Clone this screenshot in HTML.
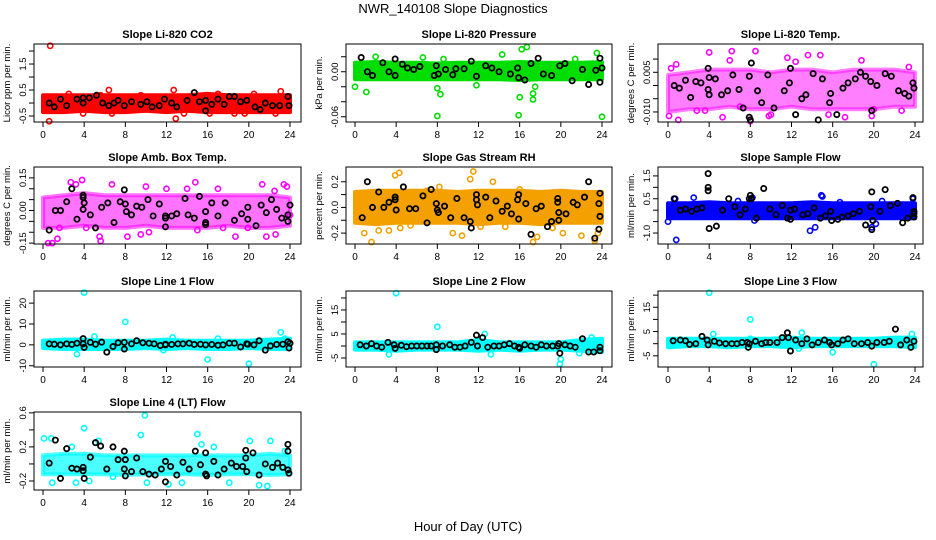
<!DOCTYPE html>
<html><head><meta charset="utf-8"><style>
html,body{margin:0;padding:0;background:#fff;}
svg{display:block;font-family:"Liberation Sans",sans-serif;}
</style></head><body>
<svg id="chart" width="936" height="540" viewBox="0 0 936 540" xmlns="http://www.w3.org/2000/svg">
<rect x="0" y="0" width="936" height="540" fill="#fff"/>
<text x="453" y="13" text-anchor="middle" font-size="13">NWR_140108  Slope Diagnostics</text>
<text x="468" y="531" text-anchor="middle" font-size="13">Hour of Day (UTC)</text>
</svg>
<script>
const bandHours=[0,2,4,6,8,10,12,14,16,18,20,22,24];
const xTicks=[0,4,8,12,16,20,24];

const co2Lo=[-0.35,-0.35,-0.3,-0.35,-0.35,-0.3,-0.35,-0.3,-0.35,-0.35,-0.35,-0.35,-0.35];
const co2Hi=[0.3,0.3,0.3,0.3,0.3,0.3,0.3,0.3,0.35,0.3,0.3,0.3,0.3];
const co2Pts=[[0.7,2.2],[0.6,-0.7],[3.9,-0.4],[6.4,0.5],[6.7,-0.4],[12.7,0.5],[12.9,-0.6],[13.7,-0.4],[16.2,-0.4],[18.6,-0.4],[19.6,-0.4],[22.6,-0.4],[23.1,0.45],[5.6,0.3],[9.5,0.3],[17,0.35],[20.5,0.35],[2.5,0.35]];
const co2Blk=[[0.6,0],[1.1,-0.15],[1.7,0.15],[2.3,-0.1],[3.3,0.15],[3.9,0.2],[3.9,0],[4.5,0.2],[5.2,0.3],[5.8,0],[6.4,-0.1],[6.9,0],[7.3,0.1],[7.9,-0.1],[8.6,0.05],[9.5,-0.05],[10.1,0.05],[10.6,-0.15],[11.3,-0.1],[11.8,0.15],[12.5,0],[13,-0.15],[14,0.1],[14.7,0.4],[15.2,0.05],[15.8,0.1],[15.8,-0.3],[16.4,-0.05],[17,0.15],[17.6,-0.05],[18.1,0.25],[18.6,0.25],[19.2,0.05],[19.8,0.1],[20.6,-0.15],[21.1,-0.25],[21.6,0],[22.3,-0.1],[23,-0.1],[23.8,0.25],[23.9,-0.1]];
const co2Ticks=[-0.5,0,0.5,1,1.5,2];
const co2Labels=["-0.5","","0.5","","1.5",""];

const presLo=[-0.01,-0.01,-0.01,-0.01,-0.01,-0.01,-0.01,-0.01,-0.011,-0.01,-0.01,-0.01,-0.01];
const presHi=[0.012,0.013,0.012,0.012,0.011,0.012,0.012,0.012,0.013,0.012,0.012,0.012,0.013];
const presPts=[[0,-0.02],[1.1,-0.027],[2,0.02],[6.6,0.019],[8,-0.059],[8,-0.022],[8.3,-0.03],[8.6,0.017],[15.9,-0.058],[16,-0.034],[16.2,0.03],[16.7,0.033],[17.3,-0.037],[17.3,-0.029],[17.5,-0.02],[14.3,0.023],[23.5,0.025],[24,-0.06],[11.8,-0.018],[21.4,0.017]];
const presBlk=[[0.6,0.019],[1.2,0],[1.7,-0.005],[2.7,0.012],[3.3,0],[3.9,0.017],[3.9,-0.005],[4.6,0.01],[5.1,0.005],[5.7,0.003],[6.3,0.007],[7.7,-0.005],[7.9,0.008],[8.1,-0.003],[8.8,0.003],[9.5,-0.004],[9.8,0.004],[10.6,0.004],[11.3,0.014],[11.8,-0.006],[12.7,0.008],[13.3,0.005],[14,0],[15.1,-0.003],[15.8,0.005],[15.9,-0.008],[16.5,-0.011],[17.1,0.011],[17.8,0.018],[18.3,-0.003],[19.1,-0.005],[19.9,0.008],[20.4,0.011],[21.1,-0.012],[22.1,0.003],[22.7,-0.017],[23.4,0.002],[23.8,0.018],[23.8,-0.014],[24,0.005]];
const presTicks=[-0.06,-0.04,-0.02,0,0.02];
const presLabels=["-0.06","","","0.00",""];

const tempLo=[-0.01,-0.009,-0.009,-0.008,-0.009,-0.009,-0.008,-0.009,-0.009,-0.009,-0.009,-0.008,-0.008];
const tempHi=[0.004,0.005,0.006,0.006,0.006,0.005,0.006,0.006,0.005,0.006,0.006,0.006,0.005];
const tempPts=[[0.1,-0.0115],[0.3,0.0065],[0.8,0.008],[1,-0.013],[4,0.0125],[6,0.0095],[6.2,0.013],[8.5,0.013],[8,-0.0135],[10,-0.011],[11.6,0.0105],[12.4,0.009],[13.6,0.0115],[14.8,0.0115],[15.6,-0.011],[17.2,-0.012],[18.8,0.0095],[19.8,-0.0115],[20,-0.009],[22.7,-0.0095],[23.4,0.007],[7,-0.008],[2.8,-0.0095],[3.6,-0.0095],[5.3,-0.012],[9.8,-0.0115]];
const tempBlk=[[0.6,0],[1.1,-0.001],[1.7,0.002],[2.2,-0.0045],[2.7,0.0015],[3.2,0.001],[3.9,0.0065],[3.9,-0.0015],[4,-0.0035],[4,0.003],[4.6,0.0025],[5.2,-0.0035],[5.8,-0.002],[6.3,0.004],[6.9,-0.0015],[7.3,-0.0085],[7.9,0.0035],[7.9,-0.012],[8,-0.013],[8.1,0.0085],[8.7,-0.002],[9.1,-0.0065],[9.7,0.004],[10.3,-0.0085],[11.3,-0.002],[11.8,0.001],[11.9,0.0065],[12.4,-0.011],[13,-0.005],[13.4,-0.0035],[14.1,0.0045],[14.6,-0.013],[15,0.0025],[15.7,-0.0065],[15.8,-0.003],[16.4,-0.011],[17,-0.001],[17.5,0.001],[18.2,0.0025],[18.7,0.005],[19.2,0.0035],[19.7,0.0015],[19.8,-0.0095],[20.3,0],[21.1,0.0045],[21.7,0.0035],[22.4,-0.002],[23,-0.003],[23.4,-0.004],[23.8,0.001],[23.9,-0.001]];
const tempTicks=[-0.01,-0.005,0,0.005,0.01];
const tempLabels=["-0.010","","","0.005",""];

const ambLo=[-0.08,-0.08,-0.07,-0.08,-0.08,-0.07,-0.08,-0.08,-0.08,-0.07,-0.08,-0.08,-0.07];
const ambHi=[0.06,0.07,0.08,0.07,0.07,0.07,0.07,0.07,0.07,0.07,0.07,0.07,0.06];
const ambPts=[[0.5,-0.15],[0.9,-0.15],[1.4,-0.13],[1.6,-0.08],[2.7,0.13],[3.2,0.12],[3.8,0.14],[4.2,-0.08],[5.5,-0.12],[5.6,-0.14],[6.7,0.12],[8.2,-0.12],[9.5,-0.11],[10,0.11],[10.3,-0.1],[12,0.1],[14,0.1],[14.8,0.13],[15,-0.09],[17,0.1],[17.5,-0.08],[18.7,-0.12],[19.9,-0.08],[21.3,0.12],[21.7,-0.12],[22.5,0.09],[22.6,-0.11],[23.4,0.12],[23.7,0.11],[24,-0.02]];
const ambBlk=[[0.6,-0.09],[1.2,0],[1.7,0],[2.3,0.04],[2.8,0.1],[3.3,-0.04],[3.9,0.07],[3.9,0.06],[4,0.035],[3.9,0.005],[4.6,-0.02],[5.1,-0.08],[5.7,0.015],[6.3,0.035],[6.9,-0.055],[7.5,0.04],[7.9,0.095],[8,0.03],[8.1,-0.005],[8.6,-0.02],[9.1,0.02],[9.6,0.015],[10.2,0.05],[10.7,-0.025],[11.3,0.03],[11.9,-0.025],[11.9,-0.035],[11.9,-0.075],[12.5,-0.025],[13,-0.015],[13.8,0.055],[14.1,-0.02],[14.7,-0.035],[15.2,0.065],[15.8,-0.005],[15.8,-0.055],[15.8,-0.065],[16.4,0.035],[17,-0.025],[17.7,0.035],[18.6,-0.045],[19.3,-0.015],[19.9,0.015],[19.9,-0.04],[20.7,-0.07],[21.2,0.025],[21.7,-0.01],[22.2,0.05],[22.7,0.005],[23.2,-0.035],[23.8,-0.02],[23.8,-0.05],[24,0.025]];
const ambTicks=[-0.15,-0.1,-0.05,0,0.05,0.1,0.15];
const ambLabels=["-0.15","","","0.00","","","0.15"];

const rhLo=[-0.12,-0.13,-0.12,-0.12,-0.12,-0.12,-0.13,-0.12,-0.12,-0.13,-0.12,-0.12,-0.12];
const rhHi=[0.12,0.13,0.13,0.13,0.13,0.12,0.13,0.13,0.13,0.12,0.13,0.12,0.12];
const rhPts=[[0.9,-0.2],[1.6,-0.27],[2.3,-0.18],[3.3,-0.18],[3.9,0.25],[4.3,0.27],[4.4,-0.16],[5.4,-0.14],[7,0.13],[8.2,0.16],[9.5,-0.2],[10.4,-0.22],[11.2,0.22],[11.5,0.28],[12.2,-0.15],[13.4,0.2],[14.6,-0.15],[16,0.14],[17.3,-0.27],[17.7,-0.23],[20.2,-0.2],[22,-0.22],[23.3,-0.26],[23.6,-0.2],[19.2,-0.16]];
const rhBlk=[[0.7,-0.08],[1.2,0.2],[1.7,0],[2.3,0.12],[2.8,0],[3.3,0.04],[3.9,0.08],[3.9,0.06],[4,-0.02],[4.7,0.16],[5.3,-0.01],[5.9,-0.01],[6.6,0.09],[7,-0.12],[7.4,0.14],[7.9,0.03],[8,-0.02],[8.1,-0.04],[8.7,0.01],[9.3,-0.08],[9.9,0.07],[10.6,-0.08],[11.2,-0.11],[11.3,-0.16],[11.8,0.1],[11.8,0.06],[11.9,0.02],[12.7,0.08],[13.1,-0.08],[13.7,0.05],[14.3,-0.03],[14.8,0.01],[15.2,-0.05],[15.8,0.06],[15.9,0.1],[15.9,-0.09],[16.6,0.03],[17.1,-0.21],[17.6,-0.01],[18.1,0.01],[18.7,-0.15],[19.1,-0.11],[19.7,0.07],[19.7,0.04],[19.8,-0.04],[19.8,-0.1],[20.5,-0.05],[21.2,0.04],[21.6,0.02],[22.3,0.08],[22.7,0.2],[23.3,-0.24],[23.7,0.03],[23.8,0.11],[23.8,-0.07],[23.7,-0.17]];
const rhTicks=[-0.2,-0.1,0,0.1,0.2];
const rhLabels=["-0.2","","0.0","","0.2"];

const sfLo=[-0.35,-0.35,-0.35,-0.35,-0.35,-0.35,-0.35,-0.35,-0.35,-0.35,-0.35,-0.35,-0.35];
const sfHi=[0.3,0.3,0.35,0.3,0.3,0.3,0.3,0.35,0.3,0.3,0.3,0.3,0.3];
const sfPts=[[0,-0.5],[0.7,0.5],[0.8,-1.3],[2.5,0.55],[6.8,0.4],[8.2,0.55],[8.4,-0.45],[13.8,-0.9],[14.3,-0.75],[14.9,0.65],[15,0.6],[16.7,0.35],[19.8,-0.75],[20.2,-0.6],[20.8,0.4],[23.8,0.5]];
const sfBlk=[[0.6,0.5],[1.2,0],[1.7,0.05],[2.3,-0.05],[2.8,0.05],[3.3,0.1],[3.9,1.6],[3.9,0.85],[3.9,1],[4,-0.8],[4.7,-0.7],[5.3,0],[5.9,0.5],[6.5,0.15],[7,-0.2],[7.5,0.05],[7.9,0.5],[8,0.65],[8.1,0.5],[8.6,-0.35],[9.3,0.95],[9.9,0.05],[10.5,-0.2],[11.1,0.2],[11.6,-0.35],[11.9,0],[11.9,-0.4],[12.3,0.05],[13.1,-0.2],[13.6,-0.15],[14.2,0.1],[14.8,-0.35],[15.3,-0.25],[15.8,-0.05],[15.9,-0.45],[16.5,-0.4],[16.9,-0.3],[17.5,-0.25],[18,-0.15],[18.6,-0.05],[19.2,-0.65],[19.7,0.15],[19.8,0.8],[19.8,-0.85],[19.9,-0.45],[20.6,-0.05],[21.1,0.9],[21.6,0.2],[22.3,0.3],[22.8,-0.55],[23.3,-0.35],[23.8,0.55],[23.9,-0.05],[23.9,-0.3],[23.9,-0.15]];
const sfTicks=[-1,-0.5,0,0.5,1,1.5];
const sfLabels=["-1.0","","","0.5","","1.5"];

const l1Lo=[-1.5,-2,-2,-2,-2,-1.5,-2,-1.5,-2,-2,-1.5,-2,-2];
const l1Hi=[2,2.5,2.5,2,2,2,2.5,2,2,2,2,2.5,3];
const l1Pts=[[4,25],[8,11],[3.3,-4.5],[5,4],[16,-7],[20,-9],[23.1,6],[23.5,3],[12.6,3.5],[11.7,-2.5],[17,3]];
const l1Blk=[[0.6,0.5],[1.1,0.3],[1.7,0],[2.3,0.5],[2.8,0.2],[3.3,0.8],[3.9,3],[4,-1.2],[3.9,0.5],[4.6,1.2],[5.1,0.3],[5.7,1.3],[6.2,-3.5],[6.8,-0.8],[7.3,1],[7.9,1.2],[7.9,-2],[8.6,0.5],[9.1,2],[9.7,1],[10.3,0.8],[10.8,0.5],[11.4,-0.3],[11.9,0],[11.9,0.3],[12.5,0.2],[13.1,0.5],[13.6,0.5],[14.2,0.8],[14.7,0.2],[15.3,0.3],[15.8,0],[16.4,0.2],[17,-0.2],[17.5,0],[18.1,0.8],[18.6,0.8],[19.2,-1],[19.8,0.5],[19.9,0.3],[20.5,0],[21,2],[21.6,-2.5],[22.1,-0.5],[22.7,0.2],[23.3,0.3],[23.8,1.5],[23.9,-1.5],[24,0.8]];
const l1Ticks=[-10,0,10,20];
const l1Labels=["-10","0","10","20"];

const l2Lo=[-1.5,-1.5,-2,-1.5,-1.5,-1.5,-2,-1.5,-2,-1.5,-1.5,-2,-2.5];
const l2Hi=[1.5,1.5,1.5,1.5,1.5,1.5,2.5,1.5,1.5,1.5,1.5,2.5,3];
const l2Pts=[[4,22],[8,8],[3.3,-3.5],[12.6,5],[13.2,-3.5],[20,-5.5],[21.8,-3],[22.5,-1],[23,3.5],[19.9,-7.5]];
const l2Blk=[[0.5,0.5],[1.1,0],[1.6,1],[2.1,0],[2.6,-0.5],[3.2,1.5],[3.8,0.5],[3.9,-1],[4.5,0.3],[5,-0.3],[5.5,0],[6,0],[6.5,0],[7,0],[7.4,0],[7.9,0.5],[7.9,-1.5],[8.5,0],[9.2,0.5],[9.7,-0.5],[10.2,-0.5],[10.7,0],[11.3,1.5],[11.8,4.5],[11.9,0],[12.4,3.5],[12.9,-0.5],[13.5,0],[14,0],[14.5,0.5],[15,1],[15.5,0],[15.9,-0.5],[16,-1],[16.5,0.5],[17.1,0],[17.6,-0.5],[18.1,0.5],[18.6,0],[19.2,0],[19.7,0],[19.8,1],[19.9,-3],[20.4,0.5],[20.9,0],[21.4,-0.5],[22.1,3],[22.7,-2.5],[23.2,-2.5],[23.8,-2],[23.8,-0.5]];
const l2Ticks=[-5,0,5,10,15,20];
const l2Labels=["-5","","5","","15",""];

const l3Lo=[-1.5,-1,-1,-1.5,-1,-1,-1.5,-1,-1,-1,-1,-1,-1.5];
const l3Hi=[2,2,2,2,2,2,2.5,2,2,2,2,2.5,2.5];
const l3Pts=[[4,21],[8,10],[4.4,4],[13,4.5],[12.7,-2],[16,-3.5],[20,-8.5],[23.7,4],[8,2]];
const l3Blk=[[0.5,1.2],[1.2,1.5],[1.7,1.2],[2.1,-0.3],[2.7,0],[3.3,3],[3.8,1.5],[3.9,-0.5],[4.5,1],[5,0.3],[5.6,0],[6.2,0],[6.7,0],[7.2,0.5],[7.7,0.5],[7.8,-1.5],[7.9,0],[8.5,1],[9.1,0],[9.5,0.5],[9.9,0.5],[10.6,0.5],[11.1,2.5],[11.6,4.5],[11.7,2.5],[11.9,-3],[12.4,1.5],[13,0],[13.5,2],[14,-0.5],[14.6,0.5],[15.2,1.5],[15.7,0.5],[15.9,-0.5],[16.5,0],[17,1.5],[17.5,2],[18.1,0],[18.8,0],[19.4,0.5],[19.8,-1],[20.3,0.5],[21,0.5],[21.5,1],[22.1,6],[22.6,-0.5],[23.2,1.5],[23.6,-1.5],[23.9,1]];
const l3Ticks=[-5,0,5,10,15,20];
const l3Labels=["-5","","5","","15",""];

const l4Lo=[-0.12,-0.12,-0.12,-0.12,-0.13,-0.12,-0.12,-0.12,-0.13,-0.12,-0.12,-0.13,-0.12];
const l4Hi=[0.1,0.12,0.12,0.1,0.1,0.1,0.1,0.1,0.1,0.1,0.1,0.12,0.1];
const l4Pts=[[0.1,0.3],[0.8,0.3],[0.9,-0.22],[2.8,0.2],[4,0.42],[5.4,0.27],[4.5,-0.2],[6.8,-0.15],[9.5,0.34],[9.9,0.57],[10.1,-0.22],[12.2,-0.24],[13.5,-0.22],[15,0.35],[16.6,0.2],[18.1,-0.22],[20.1,0.27],[21,-0.25],[21.8,-0.26],[22.1,0.27],[23.5,0.15],[3.2,-0.22],[15.4,0.23]];
const l4Blk=[[0.6,0.01],[1.2,0.28],[1.7,-0.17],[2.3,0.18],[2.8,-0.05],[3.3,-0.06],[3.9,-0.04],[3.9,-0.08],[4,-0.17],[4.6,0.08],[5.1,0.25],[5.6,0.21],[6.2,-0.06],[6.8,0.2],[7.3,0.05],[7.9,0.15],[7.9,-0.06],[8,-0.14],[8,0.05],[8.6,-0.09],[9.1,0.07],[9.7,-0.09],[10.3,-0.12],[10.9,-0.13],[11.5,-0.06],[11.9,-0.21],[11.9,0.03],[12.4,-0.03],[13,-0.13],[13.6,0.02],[14.2,-0.06],[14.8,0.15],[15.3,-0.01],[15.8,0.13],[15.8,-0.12],[15.9,-0.14],[16.6,0.03],[17,-0.13],[17.6,-0.06],[18.3,0.01],[18.8,-0.03],[19.4,-0.03],[19.7,0.16],[19.7,0.07],[19.8,-0.09],[20.4,0.13],[21,-0.13],[21.6,0],[22.3,-0.04],[22.8,0.01],[23.3,-0.04],[23.8,0.23],[23.8,0.15],[23.8,-0.07],[23.9,-0.11]];
const l4Ticks=[-0.2,0,0.2,0.4,0.6];
const l4Labels=["-0.2","","0.2","","0.6"];

const svg=document.getElementById('chart');
const NS='http://www.w3.org/2000/svg';
const cols=[{bl:34,br:301,x0:43,x24:290},{bl:346,br:612,x0:355,x24:602},{bl:658,br:923,x0:668,x24:915}];
const rows=[{t:44,b:122},{t:167,b:244},{t:291,b:367},{t:412,b:490}];
const panels=[
 {key:'co2',title:'Slope Li-820 CO2',yl:'Licor ppm per min.',c:0,r:0,ymin:-0.73,ymax:2.27,lo:co2Lo,hi:co2Hi,pts:co2Pts,blk:co2Blk,ticks:co2Ticks,labels:co2Labels,col:'#ff0000',op:1},
 {key:'pressure',title:'Slope Li-820 Pressure',yl:'kPa per min.',c:1,r:0,ymin:-0.067,ymax:0.037,lo:presLo,hi:presHi,pts:presPts,blk:presBlk,ticks:presTicks,labels:presLabels,col:'#00dd00',op:1},
 {key:'li820-temp',title:'Slope Li-820 Temp.',yl:'degrees C per min.',c:2,r:0,ymin:-0.0138,ymax:0.0157,lo:tempLo,hi:tempHi,pts:tempPts,blk:tempBlk,ticks:tempTicks,labels:tempLabels,col:'#ff00ff',op:0.5},
 {key:'amb-box-temp',title:'Slope Amb. Box Temp.',yl:'degrees C per min.',c:0,r:1,ymin:-0.154,ymax:0.2,lo:ambLo,hi:ambHi,pts:ambPts,blk:ambBlk,ticks:ambTicks,labels:ambLabels,col:'#ff00ff',op:0.55},
 {key:'gas-stream-rh',title:'Slope Gas Stream RH',yl:'percent per min.',c:1,r:1,ymin:-0.285,ymax:0.315,lo:rhLo,hi:rhHi,pts:rhPts,blk:rhBlk,ticks:rhTicks,labels:rhLabels,col:'#f4a000',op:1},
 {key:'sample-flow',title:'Slope Sample Flow',yl:'ml/min per min.',c:2,r:1,ymin:-1.48,ymax:1.89,lo:sfLo,hi:sfHi,pts:sfPts,blk:sfBlk,ticks:sfTicks,labels:sfLabels,col:'#0000ff',op:1},
 {key:'line1-flow',title:'Slope Line 1 Flow',yl:'ml/min per min.',c:0,r:2,ymin:-10.6,ymax:25.8,lo:l1Lo,hi:l1Hi,pts:l1Pts,blk:l1Blk,ticks:l1Ticks,labels:l1Labels,col:'#00ffff',op:1},
 {key:'line2-flow',title:'Slope Line 2 Flow',yl:'ml/min per min.',c:1,r:2,ymin:-8.75,ymax:22.9,lo:l2Lo,hi:l2Hi,pts:l2Pts,blk:l2Blk,ticks:l2Ticks,labels:l2Labels,col:'#00ffff',op:1},
 {key:'line3-flow',title:'Slope Line 3 Flow',yl:'ml/min per min.',c:2,r:2,ymin:-9.6,ymax:21.7,lo:l3Lo,hi:l3Hi,pts:l3Pts,blk:l3Blk,ticks:l3Ticks,labels:l3Labels,col:'#00ffff',op:1},
 {key:'line4-flow',title:'Slope Line 4 (LT) Flow',yl:'ml/min per min.',c:0,r:3,ymin:-0.306,ymax:0.61,lo:l4Lo,hi:l4Hi,pts:l4Pts,blk:l4Blk,ticks:l4Ticks,labels:l4Labels,col:'#00ffff',op:0.7}
];
function mk(tag,attrs,parent){const e=document.createElementNS(NS,tag);for(const k in attrs)e.setAttribute(k,attrs[k]);parent.appendChild(e);return e;}
panels.forEach(p=>{
 const C=cols[p.c],R=rows[p.r];
 const xs=h=>C.x0+(h/24)*(C.x24-C.x0);
 const ys=v=>R.b-(v-p.ymin)/(p.ymax-p.ymin)*(R.b-R.t);
 const g=mk('g',{},svg);
 
 
 const t=mk('text',{x:(C.bl+C.br)/2,y:R.t-6,'text-anchor':'middle','font-size':'11','font-weight':'bold'},g);
 t.textContent=p.title;
 
 
 const yt=mk('text',{transform:`translate(${C.bl-24},${(R.t+R.b)/2}) rotate(-90)`,'text-anchor':'middle','font-size':'9.5'},g);
 yt.textContent=p.yl;
 
 
 let d='';
 bandHours.forEach((h,i)=>{d+=(i?'L':'M')+xs(h).toFixed(1)+','+ys(p.hi[i]).toFixed(1);});
 for(let i=bandHours.length-1;i>=0;i--)d+='L'+xs(bandHours[i]).toFixed(1)+','+ys(p.lo[i]).toFixed(1);
 const band=mk('path',{d:d+'Z',fill:p.col,'fill-opacity':p.op,stroke:p.col,'stroke-width':4,'stroke-opacity':p.op,'stroke-linejoin':'round'},g);
 
 
 p.pts.forEach(q=>{
  const c=mk('circle',{cx:xs(q[0]),cy:ys(q[1]),r:2.6,fill:'none',stroke:p.col,'stroke-width':1.6},g);
  
  
 });
 p.blk.forEach(q=>{
  const c=mk('circle',{cx:xs(q[0]),cy:ys(q[1]),r:2.6,fill:'none',stroke:'#000','stroke-width':1.8},g);
  
  
 });
 const box=mk('rect',{x:C.bl,y:R.t,width:C.br-C.bl,height:R.b-R.t,fill:'none',stroke:'#000','stroke-width':1},g);
 
 
 xTicks.forEach(h=>{
  mk('line',{x1:xs(h),x2:xs(h),y1:R.b,y2:R.b+5,stroke:'#000'},g);
  const l=mk('text',{x:xs(h),y:R.b+16,'text-anchor':'middle','font-size':'10'},g);
  l.textContent=h;
  
  
 });
 p.ticks.forEach((v,i)=>{
  const y=ys(v);
  mk('line',{x1:C.bl-5,x2:C.bl,y1:y,y2:y,stroke:'#000'},g);
  if(p.labels[i]){
   const l=mk('text',{transform:`translate(${C.bl-8},${y}) rotate(-90)`,'text-anchor':'middle','font-size':'9.5'},g);
   l.textContent=p.labels[i];
   
   
  }
 });
});
</script>
</body></html>
